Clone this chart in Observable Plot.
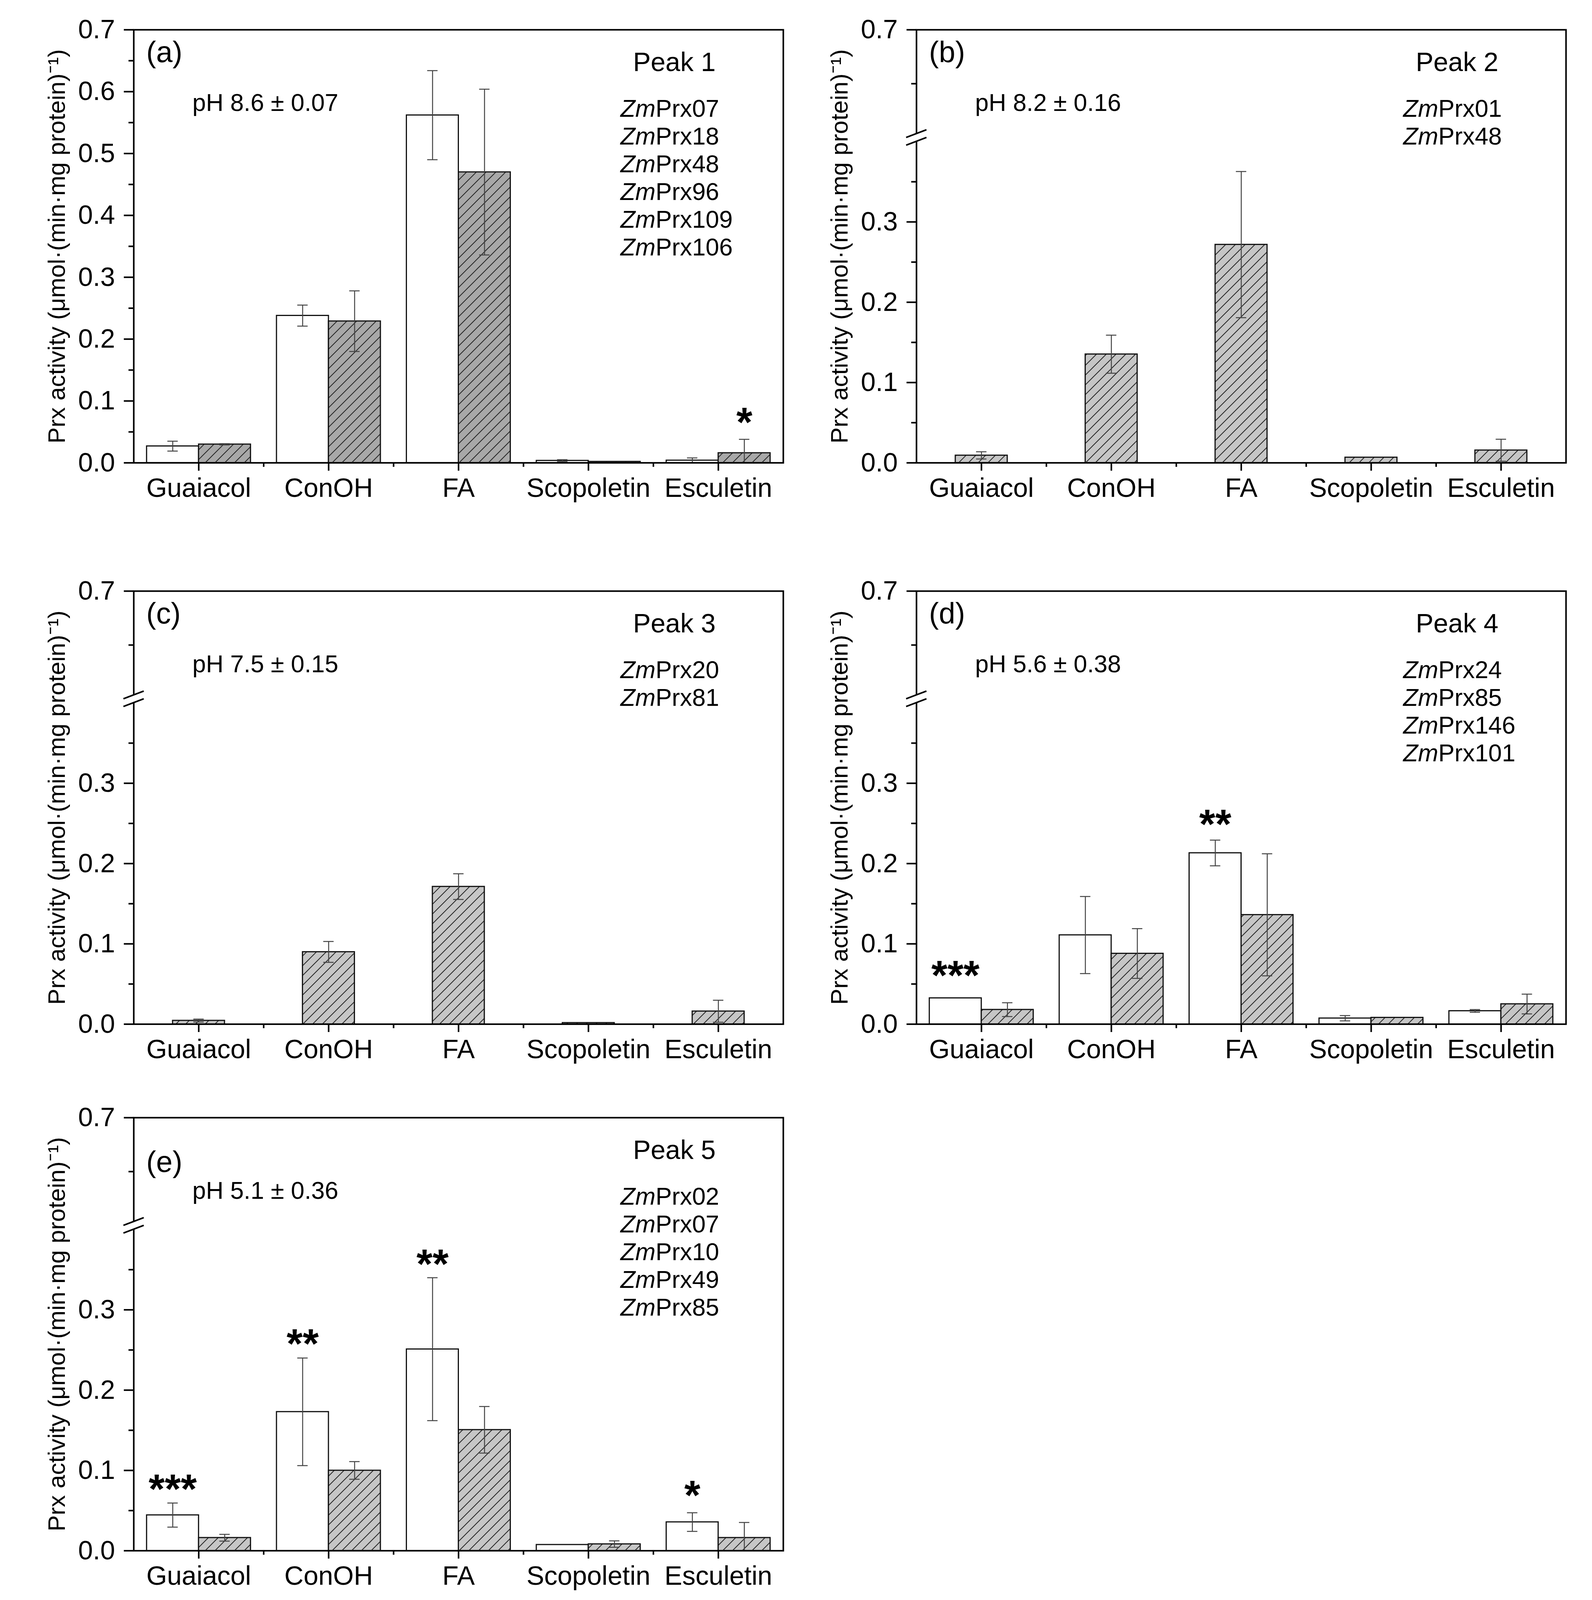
<!DOCTYPE html>
<html>
<head>
<meta charset="utf-8">
<script src="https://cdn.jsdelivr.net/npm/d3@7"></script>
<script src="https://cdn.jsdelivr.net/npm/@observablehq/plot@0.6"></script>
<style>
  html, body { margin: 0; padding: 0; background: white; overflow: hidden; }
  #fig { position: relative; width: 4076px; background: white; overflow: hidden; }
  #defs { position: absolute; left: 0; top: 0; width: 0; height: 0; }
</style>
</head>
<body>
<div id="fig">
<svg id="defs" width="0" height="0">
  <defs>
    <pattern id="hatchDark" patternUnits="userSpaceOnUse" width="25" height="25">
      <rect width="25" height="25" fill="#a8a8a8"></rect>
      <path d="M-5,5 L5,-5 M0,25 L25,0 M20,30 L30,20" stroke="#262626" stroke-width="2"></path>
    </pattern>
    <pattern id="hatchLight" patternUnits="userSpaceOnUse" width="25" height="25">
      <rect width="25" height="25" fill="#c6c6c6"></rect>
      <path d="M-5,5 L5,-5 M0,25 L25,0 M20,30 L30,20" stroke="#262626" stroke-width="2"></path>
    </pattern>
  </defs>
</svg>
</div>
<script>
const categories = ["Guaiacol", "ConOH", "FA", "Scopoletin", "Esculetin"];

// Peak 1
const peak1White = [0.027, 0.238, 0.562, 0.0036, 0.004];
const peak1WhiteSd = [0.008, 0.017, 0.072, 0.0015, 0.004];
const peak1Gray = [0.030, 0.229, 0.470, 0.002, 0.016];
const peak1GraySd = [0.001, 0.049, 0.134, 0.0005, 0.022];
// Peak 2
const peak2Gray = [0.0093, 0.1353, 0.2718, 0.0068, 0.0157];
const peak2GraySd = [0.0045, 0.0237, 0.091, 0.0003, 0.0137];
// Peak 3
const peak3Gray = [0.0045, 0.090, 0.1713, 0.0017, 0.0161];
const peak3GraySd = [0.0018, 0.013, 0.016, 0.0003, 0.0137];
// Peak 4
const peak4White = [0.0325, 0.111, 0.2132, 0.0074, 0.0165];
const peak4WhiteSd = [0.0005, 0.048, 0.016, 0.0033, 0.0017];
const peak4Gray = [0.0181, 0.088, 0.1362, 0.0082, 0.0251];
const peak4GraySd = [0.0086, 0.031, 0.076, 0.0002, 0.0123];
// Peak 5
const peak5White = [0.0444, 0.173, 0.251, 0.0075, 0.0357];
const peak5WhiteSd = [0.015, 0.067, 0.089, 0.0002, 0.0116];
const peak5Gray = [0.0162, 0.100, 0.1506, 0.0083, 0.0162];
const peak5GraySd = [0.0042, 0.011, 0.029, 0.004, 0.019];

// significance marks: category index, series, level, text
const peak1Stars = [{i: 4, s: "gray", level: 0.072, t: "*"}];
const peak4Stars = [{i: 0, s: "white", level: 0.066, t: "***"}, {i: 2, s: "white", level: 0.254, t: "**"}];
const peak5Stars = [
  {i: 0, s: "white", level: 0.082, t: "***"},
  {i: 1, s: "white", level: 0.263, t: "**"},
  {i: 2, s: "white", level: 0.362, t: "**"},
  {i: 4, s: "white", level: 0.074, t: "*"}
];

const peakNames = ["Peak 1", "Peak 2", "Peak 3", "Peak 4", "Peak 5"];
const panelLabels = ["(a)", "(b)", "(c)", "(d)", "(e)"];
const phLabels = ["pH 8.6 ± 0.07", "pH 8.2 ± 0.16", "pH 7.5 ± 0.15", "pH 5.6 ± 0.38", "pH 5.1 ± 0.36"];
const prxLists = [
  ["Prx07", "Prx18", "Prx48", "Prx96", "Prx109", "Prx106"],
  ["Prx01", "Prx48"],
  ["Prx20", "Prx81"],
  ["Prx24", "Prx85", "Prx146", "Prx101"],
  ["Prx02", "Prx07", "Prx10", "Prx49", "Prx85"]
];

const linearTicks = [0, 0.1, 0.2, 0.3, 0.4, 0.5, 0.6, 0.7];
const linearMinor = [0.05, 0.15, 0.25, 0.35, 0.45, 0.55, 0.65];
const brokenTicks = [0, 0.1, 0.2, 0.3, 0.7];
const brokenMinor = [0.05, 0.15, 0.25, 0.35, 0.65];

const yTitle = "Prx activity (μmol·(min·mg protein)⁻¹)";
const font = "'Liberation Sans', Arial, sans-serif";

// the window can be shorter than the 4962px figure: squeeze the vertical layout to fit it
const PAGE_H = 4962;
const viewH = Math.min(PAGE_H, window.innerHeight || PAGE_H);
const sy = viewH / PAGE_H;
const fsc = Math.pow(sy, 0.3);
const Y = v => v * sy;
const F = v => v * fsc;

const FW = 1663, FH = Y(1343);
const ML = 300, MT = Y(70), MR = 80, MB = Y(135);
const BAR = 0.4;
const brkLo = 0.405, brkHi = 0.6, brkFrac = 0.751;

function rows(means, sds, series, offset) {
  if (!means) return [];
  return categories.map((c, i) => ({i, series, v: means[i], sd: sds[i], xc: i + offset}));
}

function breakMark(v) {
  return (index, scales, values, dims) => {
    const yb = scales.y(v);
    const x0 = dims.marginLeft;
    const h = Y(12);
    const g = d3.create("svg:g");
    g.append("rect").attr("x", x0 - 8).attr("y", yb - h).attr("width", 16).attr("height", 2 * h).attr("fill", "white");
    g.append("path")
      .attr("d", `M${x0 - 26},${yb} L${x0 + 26},${yb - 2 * h} M${x0 - 26},${yb + 2 * h} L${x0 + 26},${yb}`)
      .attr("stroke", "black").attr("stroke-width", 4).attr("fill", "none");
    return g.node();
  };
}

function panel(k, white, whiteSd, gray, graySd, stars, broken, hatch, left, top, labelDy) {
  const both = white != null;
  const data = [
    ...rows(white, whiteSd, "white", both ? -BAR / 2 : 0),
    ...rows(gray, graySd, "gray", both ? BAR / 2 : 0)
  ];
  const errs = data.filter(d => d.sd > 0.0006);
  const starRows = stars.map(d => ({...d, xc: d.i + (both ? (d.s === "white" ? -BAR / 2 : BAR / 2) : 0)}));
  const bottomPx = MT + FH;
  const y = broken
    ? {type: "linear", domain: [0, brkLo, brkHi, 0.7], range: [bottomPx, bottomPx - brkFrac * FH, bottomPx - brkFrac * FH, MT], axis: null}
    : {type: "linear", domain: [0, 0.7], axis: null};
  const majors = broken ? brokenTicks : linearTicks;
  const minors = broken ? brokenMinor : linearMinor;
  const prx = prxLists[k];
  const zmFont = F(66);
  const zmW = zmFont * 1.444;
  const zmX = 1246, zmTop = Y(262) - 0.71 * zmFont;
  const starFont = F(112);

  return Plot.plot({
    width: ML + FW + MR,
    height: MT + FH + MB,
    marginLeft: ML, marginRight: MR, marginTop: MT, marginBottom: MB,
    style: {position: "absolute", left: `${left - ML}px`, top: `${Y(top) - MT}px`, overflow: "visible", background: "transparent", fontFamily: font, maxWidth: "none"},
    x: {domain: [-0.5, 4.5], axis: null},
    y,
    marks: [
      Plot.rectY(data, {
        x1: d => d.xc - BAR / 2, x2: d => d.xc + BAR / 2, y1: 0, y2: "v",
        fill: d => d.series === "white" ? "white" : hatch,
        stroke: "#111", strokeWidth: 3
      }),
      Plot.ruleX(errs, {
        x: "xc", y1: d => Math.max(0, d.v - d.sd), y2: d => d.v + d.sd, stroke: "#444", strokeWidth: 2.5
      }),
      Plot.ruleY(errs, {
        y: d => d.v + d.sd, x1: d => d.xc - 0.04, x2: d => d.xc + 0.04, stroke: "#444", strokeWidth: 2.5
      }),
      Plot.ruleY(errs.filter(d => d.v - d.sd > 0), {
        y: d => d.v - d.sd, x1: d => d.xc - 0.04, x2: d => d.xc + 0.04, stroke: "#444", strokeWidth: 2.5
      }),
      Plot.frame({stroke: "black", strokeWidth: 4}),
      Plot.axisY({ticks: majors, tickSize: 25, tickPadding: 23, tickFormat: d3.format(".1f"), fontSize: F(72), strokeWidth: 4, label: null, fill: "black", fontFamily: font}),
      Plot.axisY({ticks: minors, tickSize: 13, strokeWidth: 4, label: null, fill: "none"}),
      Plot.axisX({ticks: d3.range(categories.length), tickSize: Y(25), tickPadding: Y(22), tickFormat: i => categories[i], fontSize: F(72), strokeWidth: 4, label: null, fill: "black", fontFamily: font}),
      Plot.axisX({ticks: d3.range(categories.length - 1).map(i => i + 0.5), tickSize: Y(13), strokeWidth: 4, label: null, fill: "none"}),
      broken ? breakMark(brkLo) : null,
      Plot.text([yTitle], {frameAnchor: "left", dx: -196, rotate: -90, textAnchor: "middle", lineAnchor: "middle", fontSize: 75 * sy, fill: "black", fontFamily: font}),
      Plot.text([panelLabels[k]], {frameAnchor: "top-left", dx: 32, dy: Y(labelDy), textAnchor: "start", lineAnchor: "bottom", fontSize: F(80), fill: "black", fontFamily: font}),
      Plot.text([peakNames[k]], {frameAnchor: "top-left", dx: 1384, dy: Y(128), textAnchor: "middle", lineAnchor: "bottom", fontSize: F(72), fill: "black", fontFamily: font}),
      Plot.text([phLabels[k]], {frameAnchor: "top-left", dx: 150, dy: Y(252), textAnchor: "start", lineAnchor: "bottom", fontSize: F(66), fill: "black", fontFamily: font}),
      Plot.text([prx.map(() => "Zm").join("\n")], {frameAnchor: "top-left", dx: zmX + zmW, dy: zmTop, textAnchor: "end", lineAnchor: "top", lineHeight: Y(86) / zmFont, fontSize: zmFont, fontStyle: "italic", fill: "black", fontFamily: font}),
      Plot.text([prx.join("\n")], {frameAnchor: "top-left", dx: zmX + zmW, dy: zmTop, textAnchor: "start", lineAnchor: "top", lineHeight: Y(86) / zmFont, fontSize: zmFont, fill: "black", fontFamily: font}),
      Plot.text(starRows, {x: "xc", y: "level", text: "t", fontSize: starFont, fontWeight: "bold", lineAnchor: "middle", dy: 0.12 * starFont, fill: "black", fontFamily: font})
    ]
  });
}

const fig = document.getElementById("fig");
fig.style.height = `${viewH}px`;
fig.appendChild(panel(0, peak1White, peak1WhiteSd, peak1Gray, peak1GraySd, peak1Stars, false, "url(#hatchDark)", 342, 92, 100));
fig.appendChild(panel(1, null, null, peak2Gray, peak2GraySd, [], true, "url(#hatchLight)", 2346, 92, 100));
fig.appendChild(panel(2, null, null, peak3Gray, peak3GraySd, [], true, "url(#hatchLight)", 342, 1833, 100));
fig.appendChild(panel(3, peak4White, peak4WhiteSd, peak4Gray, peak4GraySd, peak4Stars, true, "url(#hatchLight)", 2346, 1833, 100));
fig.appendChild(panel(4, peak5White, peak5WhiteSd, peak5Gray, peak5GraySd, peak5Stars, true, "url(#hatchLight)", 342, 3466, 168));
</script>
</body>
</html>
